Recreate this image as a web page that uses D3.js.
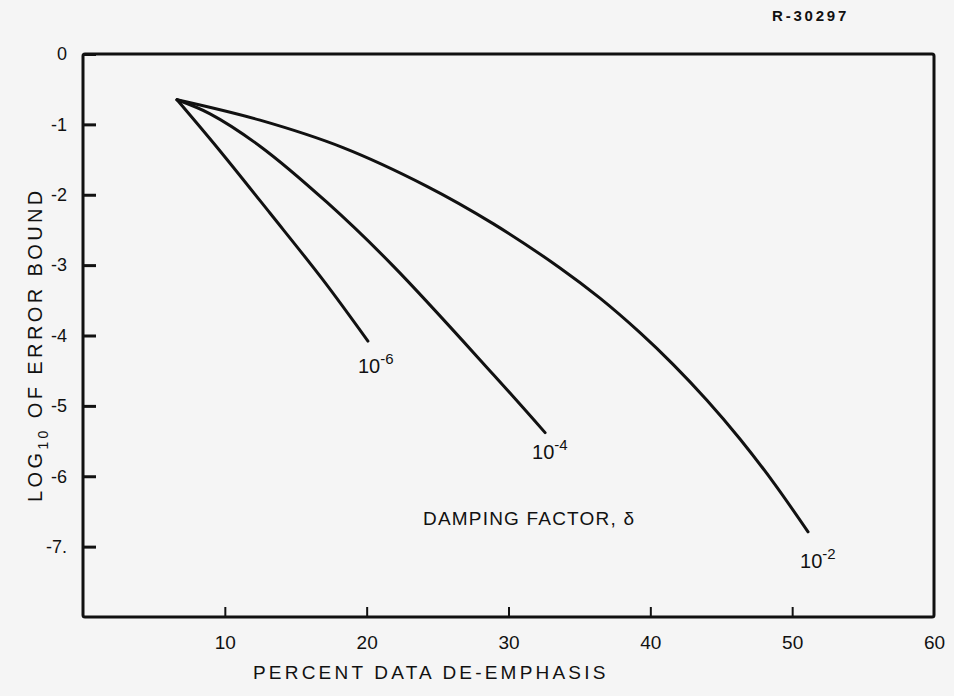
<!DOCTYPE html>
<html>
<head>
<meta charset="utf-8">
<script src="https://cdn.jsdelivr.net/npm/d3@7"></script>
<style>
    body { margin: 0; background: #f5f5f5; }
    svg { display: block; font-family: "Liberation Sans", Arial, sans-serif; }
</style>
</head>
<body>
<div id="chart"></div>
<script>
// Error bound vs. data de-emphasis, one curve per damping factor

// Axis ticks
const xTicks = [10, 20, 30, 40, 50, 60];
const yTicks = [0, -1, -2, -3, -4, -5, -6, -7];
const yTickLabels = ["0", "-1", "-2", "-3", "-4", "-5", "-6", "-7."];

// Damping factor curves (percent de-emphasis, log10 of error bound)
const delta6Percent = [6.63, 9.59, 13.18, 16.92, 20.09];
const delta6Log = [-0.65, -1.36, -2.26, -3.21, -4.08];

const delta4Percent = [6.63, 8.96, 12.48, 17.21, 21.86, 28.91, 32.58];
const delta4Log = [-0.65, -0.85, -1.31, -2.11, -3.01, -4.55, -5.38];

const delta2Percent = [6.63, 12.48, 18.33, 24.25, 28.91, 33.63, 36.45, 39.27, 41.60, 43.99, 46.32, 48.65, 51.12];
const delta2Log = [-0.65, -0.94, -1.33, -1.88, -2.41, -3.04, -3.47, -3.96, -4.41, -4.92, -5.47, -6.08, -6.79];

const curveExponents = ["-6", "-4", "-2"];

const width = 954;
const height = 696;

var svg = d3.select("#chart").append("svg")
    .attr("width", width)
    .attr("height", height);

svg.append("rect")
    .attr("width", width)
    .attr("height", height)
    .attr("fill", "#f5f5f5");

// Scales
var xScale = d3.scaleLinear().domain([0, 60]).range([83, 934]);
var yScale = d3.scaleLinear().domain([-8, 0]).range([617, 54]);

const ink = "#111";

// Frame around the plot
svg.append("rect")
    .attr("x", xScale(0))
    .attr("y", yScale(0))
    .attr("width", xScale(60) - xScale(0))
    .attr("height", yScale(-8) - yScale(0))
    .attr("rx", 2)
    .attr("fill", "none")
    .attr("stroke", ink)
    .attr("stroke-width", 3);

// Y axis, ticks point inward
var yAxis = svg.append("g")
    .attr("transform", "translate(" + xScale(0) + ",0)")
    .call(d3.axisLeft(yScale)
        .tickValues(yTicks)
        .tickFormat(function(d, i) { return yTickLabels[i]; })
        .tickSizeInner(-13)
        .tickSizeOuter(0)
        .tickPadding(16));
yAxis.select(".domain").remove();
yAxis.selectAll("line").attr("stroke", ink).attr("stroke-width", 3);
yAxis.selectAll("text")
    .attr("fill", ink)
    .style("font-size", "18px");

// X axis, short ticks pointing up
var xAxis = svg.append("g")
    .attr("transform", "translate(0," + yScale(-8) + ")")
    .call(d3.axisBottom(xScale)
        .tickValues(xTicks)
        .tickSizeInner(-10)
        .tickSizeOuter(0)
        .tickPadding(19));
xAxis.select(".domain").remove();
xAxis.selectAll("line").attr("stroke", ink).attr("stroke-width", 2)
    .filter(function(d) { return d === 60; }).remove();
xAxis.selectAll("text")
    .attr("fill", ink)
    .style("font-size", "19px");

// Axis titles
svg.append("text")
    .attr("x", 253)
    .attr("y", 679)
    .attr("fill", ink)
    .style("font-size", "19px")
    .style("letter-spacing", "3.2px")
    .text("PERCENT DATA DE-EMPHASIS");

var yTitle = svg.append("text")
    .attr("transform", "translate(42,502) rotate(-90)")
    .attr("fill", ink)
    .style("font-size", "20px")
    .style("letter-spacing", "3.4px");
yTitle.append("tspan").text("LOG");
yTitle.append("tspan").attr("dy", 6).style("font-size", "14px").text("10");
yTitle.append("tspan").attr("dy", -6).text(" OF ERROR BOUND");

// Report number
svg.append("text")
    .attr("x", 772)
    .attr("y", 21)
    .attr("fill", ink)
    .style("font-size", "15px")
    .style("font-weight", "bold")
    .style("letter-spacing", "2.8px")
    .text("R-30297");

// Curves
var curves = [
    {percent: delta6Percent, log: delta6Log},
    {percent: delta4Percent, log: delta4Log},
    {percent: delta2Percent, log: delta2Log}
];

var line = d3.line()
    .x(function(d) { return xScale(d[0]); })
    .y(function(d) { return yScale(d[1]); })
    .curve(d3.curveCatmullRom.alpha(0.5));

svg.selectAll(".curve")
    .data(curves)
    .enter()
    .append("path")
    .attr("class", "curve")
    .attr("d", function(c) { return line(d3.zip(c.percent, c.log)); })
    .attr("fill", "none")
    .attr("stroke", ink)
    .attr("stroke-width", 3)
    .attr("stroke-linecap", "round")
    .attr("stroke-linejoin", "round");

// Curve end labels, offset from each curve's last point
var labelOffsets = [[-10, 32], [-13, 26], [-8, 36]];

curves.forEach(function(c, i) {
    var n = c.percent.length - 1;
    var lbl = svg.append("text")
        .attr("x", xScale(c.percent[n]) + labelOffsets[i][0])
        .attr("y", yScale(c.log[n]) + labelOffsets[i][1])
        .attr("fill", ink)
        .style("font-size", "20px");
    lbl.append("tspan").text("10");
    lbl.append("tspan").attr("dy", -9).style("font-size", "15px").text(curveExponents[i]);
});

svg.append("text")
    .attr("x", 423)
    .attr("y", 525)
    .attr("fill", ink)
    .style("font-size", "19px")
    .style("letter-spacing", "1.2px")
    .text("DAMPING FACTOR, δ");
</script>
</body>
</html>
